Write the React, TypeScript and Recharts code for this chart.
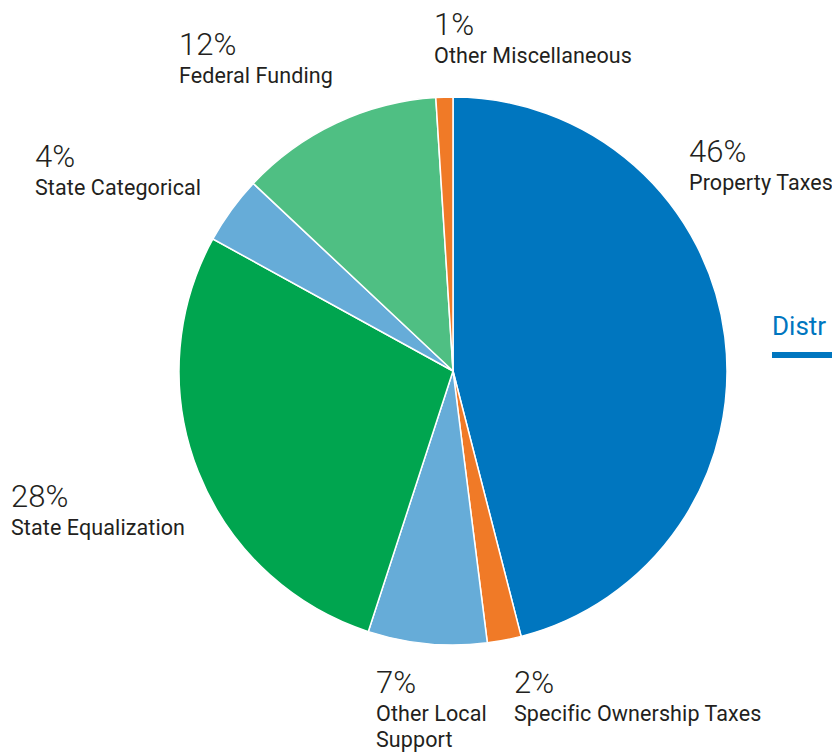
import { PieChart, Pie, Cell } from 'recharts';

const categories = [
  'Property Taxes',
  'Specific Ownership Taxes',
  'Other Local Support',
  'State Equalization',
  'State Categorical',
  'Federal Funding',
  'Other Miscellaneous',
];
const shares = [46, 2, 7, 28, 4, 12, 1];
const nameLines = [
  ['Property Taxes'],
  ['Specific Ownership Taxes'],
  ['Other Local', 'Support'],
  ['State Equalization'],
  ['State Categorical'],
  ['Federal Funding'],
  ['Other Miscellaneous'],
];
const colors = ['#0076BF', '#F07A27', '#66ACD8', '#00A54F', '#66ACD8', '#4FBF83', '#F07A27'];

// where each label block sits (left x, baseline of the percentage)
const labelSpots = [
  { x: 689, y: 162 },
  { x: 514, y: 693 },
  { x: 376, y: 693 },
  { x: 11, y: 507 },
  { x: 35, y: 167 },
  { x: 179, y: 55 },
  { x: 434, y: 35 },
];

const data = categories.map((name, i) => ({ name, value: shares[i] }));

const FONT = 'Roboto, "DejaVu Sans", sans-serif';

function renderLabel(props: any) {
  const i = props.index as number;
  const spot = labelSpots[i];
  return (
    <g key={`lbl-${i}`}>
      <text x={spot.x} y={spot.y} fontSize={31} fontWeight={300} fill="#231F20" fontFamily={FONT}>
        {`${shares[i]}%`}
      </text>
      {nameLines[i].map((line, j) => (
        <text
          key={j}
          x={spot.x}
          y={spot.y + 28 + j * 26}
          fontSize={21.5}
          fontWeight={400}
          letterSpacing={0.1}
          fill="#231F20"
          fontFamily={FONT}
        >
          {line}
        </text>
      ))}
    </g>
  );
}

export default function App() {
  return (
    <div
      style={{
        position: 'absolute',
        left: 0,
        top: 0,
        width: 832,
        height: 752,
        overflow: 'hidden',
        background: '#fff',
      }}
    >
      <PieChart width={832} height={752} margin={{ top: 0, right: 0, bottom: 0, left: 0 }}>
        <Pie
          data={data}
          dataKey="value"
          nameKey="name"
          cx={453}
          cy={371}
          outerRadius={274}
          startAngle={90}
          endAngle={-270}
          stroke="#fff"
          strokeWidth={1.5}
          label={renderLabel}
          labelLine={false}
          isAnimationActive={false}
        >
          {data.map((d, i) => (
            <Cell key={d.name} fill={colors[i]} />
          ))}
        </Pie>
      </PieChart>
      <div
        style={{
          position: 'absolute',
          left: 772,
          top: 311,
          fontFamily: FONT,
          fontSize: 26,
          color: '#0076BF',
          whiteSpace: 'nowrap',
          lineHeight: '30px',
        }}
      >
        Distr
      </div>
      <div
        style={{
          position: 'absolute',
          left: 772,
          top: 352,
          width: 60,
          height: 6,
          background: '#0076BF',
        }}
      />
    </div>
  );
}
